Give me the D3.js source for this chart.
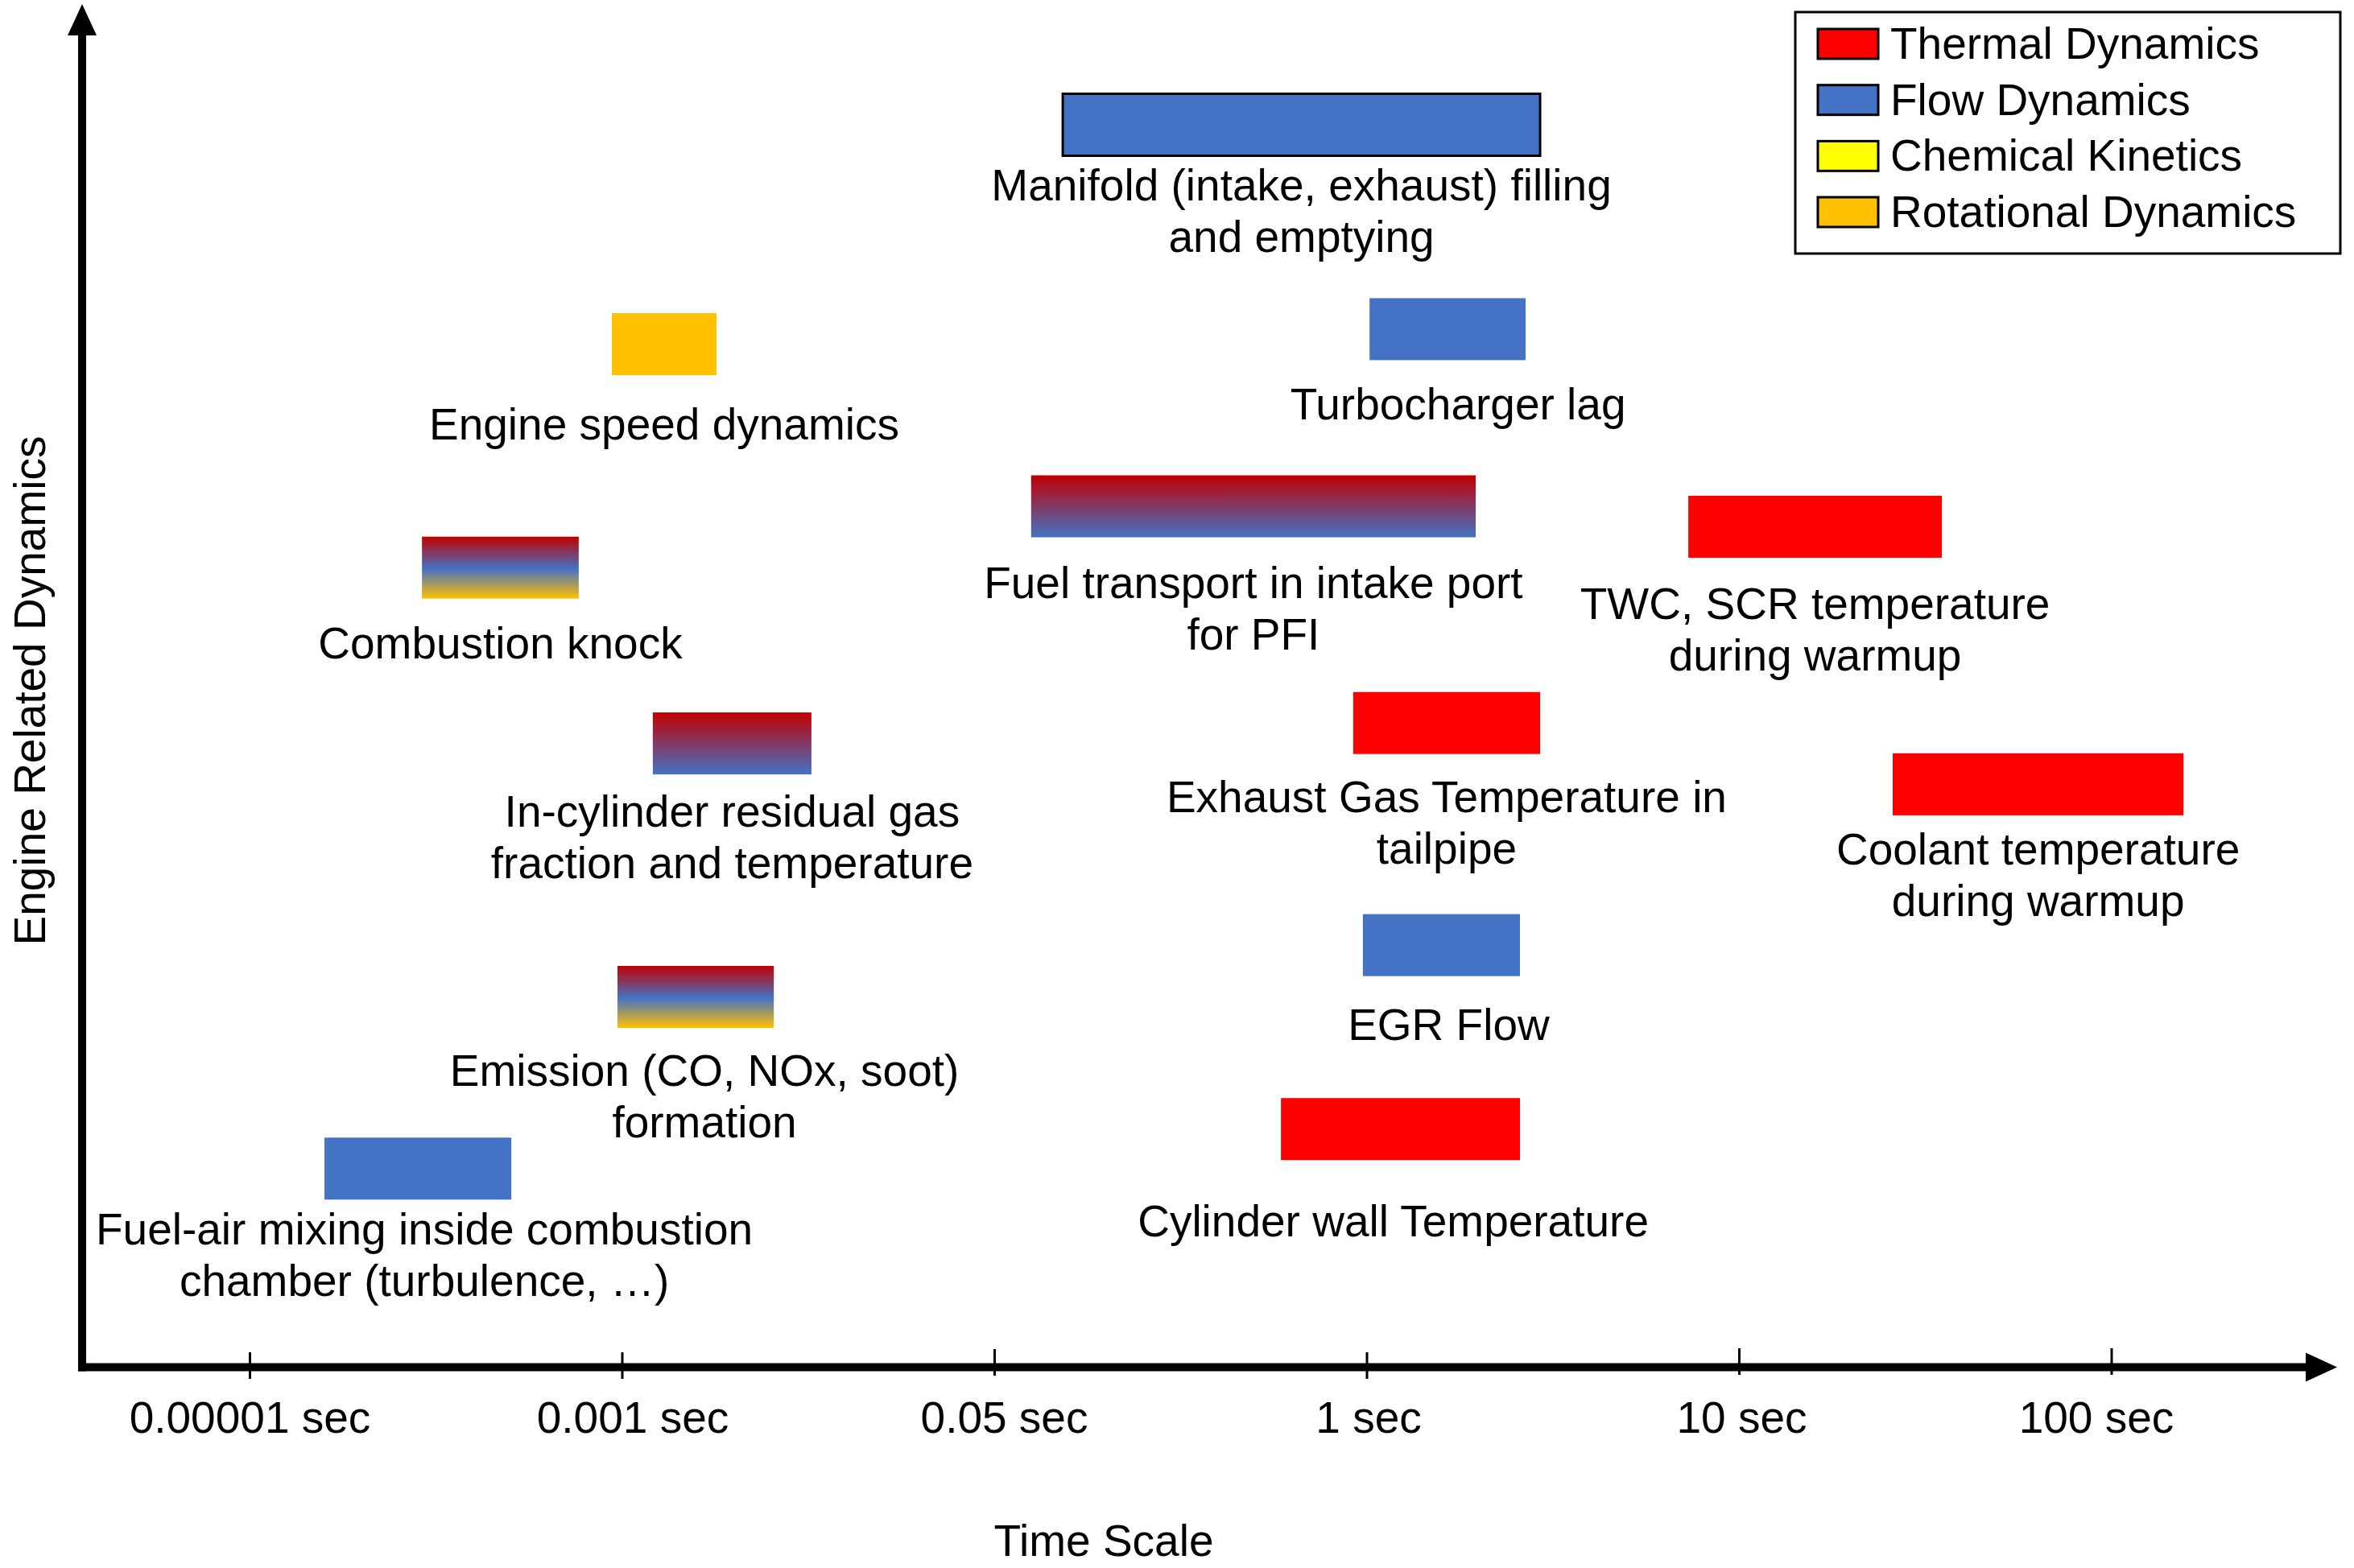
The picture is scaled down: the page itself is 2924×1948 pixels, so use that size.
<!DOCTYPE html>
<html>
<head>
<meta charset="utf-8">
<script src="https://cdn.jsdelivr.net/npm/d3@7"></script>
<style>
  html, body { margin: 0; padding: 0; background: #fff; }
  svg { display: block; font-family: "Liberation Sans", Arial, sans-serif; }
</style>
</head>
<body>
<svg id="chart" width="2924" height="1948"></svg>
<script>
// ---------------- DATA ----------------
const tickLabels = ["0.00001 sec", "0.001 sec", "0.05 sec", "1 sec", "10 sec", "100 sec"];
const categories = ["Thermal Dynamics", "Flow Dynamics", "Chemical Kinetics", "Rotational Dynamics"];

const processLabels = [
  ["Manifold (intake, exhaust) filling", "and emptying"],
  ["Turbocharger lag"],
  ["Engine speed dynamics"],
  ["Fuel transport in intake port", "for PFI"],
  ["TWC, SCR temperature", "during warmup"],
  ["Combustion knock"],
  ["In-cylinder residual gas", "fraction and temperature"],
  ["Exhaust Gas Temperature in", "tailpipe"],
  ["Coolant temperature", "during warmup"],
  ["EGR Flow"],
  ["Emission (CO, NOx, soot)", "formation"],
  ["Cylinder wall Temperature"],
  ["Fuel-air mixing inside combustion", "chamber (turbulence, …)"]
];
// time-scale position (in tick-index units along the time axis)
const timeStart = [2.184, 3.008, 0.973, 2.099, 3.864, 0.463, 1.083, 2.964, 4.413, 2.990, 0.988, 2.770, 0.201];
const timeEnd   = [3.466, 3.427, 1.254, 3.293, 4.545, 0.884, 1.509, 3.466, 5.194, 3.412, 1.408, 3.412, 0.703];
// vertical level (engine related dynamics, arbitrary 0-100)
const levels    = [91.2, 76.2, 75.1, 63.2, 61.7, 58.7, 45.8, 47.3, 42.8, 31.0, 27.2, 17.5, 14.6];
// dynamics type of each process
const processType = ["flow", "flow", "rotational", "thermal-flow", "thermal", "thermal-flow-rotational",
                     "thermal-flow", "thermal", "thermal", "flow", "thermal-flow-rotational", "thermal", "flow"];

// ---------------- STYLE / LAYOUT ----------------
const W = 2924, H = 1948;
const FONT = 55;
const LINE = 64;
const BAR_H = 77;
const catColors = { "Thermal Dynamics": "#FF0000", "Flow Dynamics": "#4472C4",
                    "Chemical Kinetics": "#FFFF00", "Rotational Dynamics": "#FFC000" };
// label layout: [dx from bar centre, gap from bar bottom to first baseline]
const labelLayout = [[0, 56], [13, 74], [0, 80], [0, 75], [0, 76], [0, 74], [0, 65],
                     [0, 72], [0, 61], [9, 79], [11, 72], [-9, 95], [8, 56]];
const outlined = [true, false, false, false, false, false, false, false, false, false, false, false, false];
const tickLift = [0, 0, 4, 0, 5, 5];
const tickTextDx = [0, 13, 12, 2, 3, -19];

const svg = d3.select("#chart");
svg.append("rect").attr("width", W).attr("height", H).attr("fill", "#fff");

const x = d3.scaleLinear().domain([0, 5]).range([310, 2622.5]);
const y = d3.scaleLinear().domain([0, 100]).range([1699, 6]);

// gradients
const defs = svg.append("defs");
const g1 = defs.append("linearGradient").attr("id", "thermal-flow")
  .attr("x1", 0).attr("y1", 0).attr("x2", 0).attr("y2", 1);
g1.append("stop").attr("offset", "0%").attr("stop-color", "#C00000");
g1.append("stop").attr("offset", "100%").attr("stop-color", "#4472C4");
const g2 = defs.append("linearGradient").attr("id", "thermal-flow-rotational")
  .attr("x1", 0).attr("y1", 0).attr("x2", 0).attr("y2", 1);
g2.append("stop").attr("offset", "0%").attr("stop-color", "#C00000");
g2.append("stop").attr("offset", "52%").attr("stop-color", "#4472C4");
g2.append("stop").attr("offset", "100%").attr("stop-color", "#FFC000");

const fillFor = t => ({
  "flow": catColors["Flow Dynamics"],
  "thermal": catColors["Thermal Dynamics"],
  "rotational": catColors["Rotational Dynamics"],
  "chemical": catColors["Chemical Kinetics"],
  "thermal-flow": "url(#thermal-flow)",
  "thermal-flow-rotational": "url(#thermal-flow-rotational)"
}[t]);

const rows = processLabels.map((lab, i) => ({
  lab, s: timeStart[i], e: timeEnd[i], lv: levels[i], t: processType[i],
  lay: labelLayout[i], out: outlined[i]
}));

// bars
svg.append("g").selectAll("rect").data(rows).join("rect")
  .attr("x", d => x(d.s))
  .attr("width", d => x(d.e) - x(d.s))
  .attr("y", d => y(d.lv) - BAR_H / 2)
  .attr("height", BAR_H)
  .attr("fill", d => fillFor(d.t))
  .attr("stroke", d => d.out ? "#000" : "none")
  .attr("stroke-width", 3);

// labels
const lg = svg.append("g").attr("font-size", FONT).attr("fill", "#000").attr("text-anchor", "middle");
rows.forEach(d => {
  const cx = (x(d.s) + x(d.e)) / 2 + d.lay[0];
  const by = y(d.lv) + BAR_H / 2 + d.lay[1];
  const t = lg.append("text").attr("x", cx).attr("y", by);
  d.lab.forEach((line, k) => {
    t.append("tspan").attr("x", cx).attr("y", by + k * LINE).text(line);
  });
});

// x axis ticks + labels
const axis = d3.axisBottom(x).tickValues(d3.range(tickLabels.length))
  .tickFormat(i => tickLabels[i]).tickSize(33).tickPadding(28);
const ag = svg.append("g").attr("transform", "translate(0,1680)").call(axis);
ag.select(".domain").remove();
ag.selectAll(".tick line").attr("stroke", "#000").attr("stroke-width", 3)
  .attr("y1", (d) => -tickLift[d]).attr("y2", (d) => 33 - tickLift[d]);
ag.selectAll(".tick text").attr("font-size", FONT).attr("fill", "#000")
  .attr("font-family", "Liberation Sans, Arial, sans-serif")
  .attr("dx", d => tickTextDx[d]);

// axis arrows
const axY = 1698.5, axX = 102;
svg.append("line").attr("x1", 97).attr("x2", 2866).attr("y1", axY).attr("y2", axY)
  .attr("stroke", "#000").attr("stroke-width", 10);
svg.append("line").attr("x1", axX).attr("x2", axX).attr("y1", 42).attr("y2", 1703.5)
  .attr("stroke", "#000").attr("stroke-width", 10);
svg.append("path").attr("d", d3.line()([[2864, axY - 18], [2903, axY], [2864, axY + 18]]) + "Z").attr("fill", "#000");
svg.append("path").attr("d", d3.line()([[axX - 18, 44], [axX, 5], [axX + 18, 44]]) + "Z").attr("fill", "#000");

// axis titles
svg.append("text").attr("x", 1371).attr("y", 1933).attr("text-anchor", "middle")
  .attr("font-size", FONT).text("Time Scale");
svg.append("text").attr("transform", "translate(56,858) rotate(-90)").attr("text-anchor", "middle")
  .attr("font-size", FONT).text("Engine Related Dynamics");

// legend
const leg = svg.append("g");
leg.append("rect").attr("x", 2230).attr("y", 15).attr("width", 677).attr("height", 300)
  .attr("fill", "#fff").attr("stroke", "#000").attr("stroke-width", 3);
const ly = d3.scalePoint().domain(categories).range([73, 282]);
const items = leg.selectAll("g.item").data(categories).join("g").attr("class", "item");
items.append("rect").attr("x", 2258).attr("y", d => ly(d) - 37).attr("width", 75).attr("height", 37)
  .attr("fill", d => catColors[d]).attr("stroke", "#000").attr("stroke-width", 3);
items.append("text").attr("x", 2348).attr("y", d => ly(d)).attr("font-size", FONT).text(d => d);
</script>
</body>
</html>
